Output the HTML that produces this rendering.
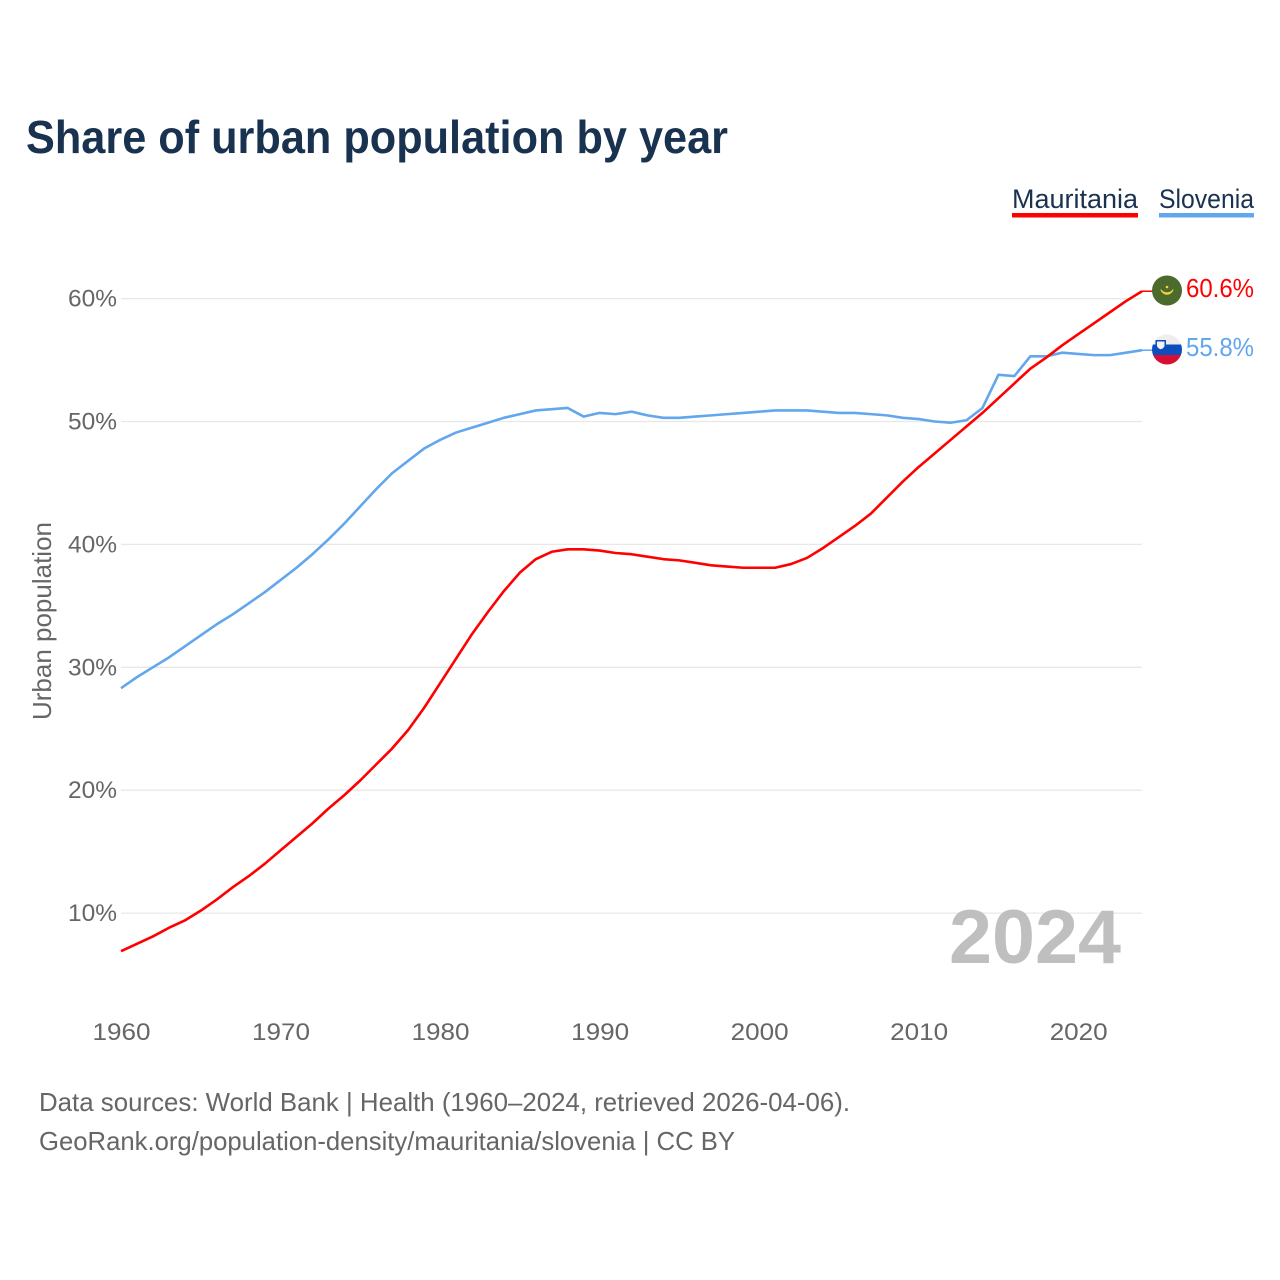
<!DOCTYPE html>
<html lang="en">
<head>
<meta charset="utf-8">
<title>Share of urban population by year</title>
<style>
html,body{margin:0;padding:0;background:#fff;}
svg{display:block;}
text{font-family:"Liberation Sans",sans-serif;}
</style>
</head>
<body>
<svg id="chart" xmlns="http://www.w3.org/2000/svg" width="1280" height="1280" viewBox="0 0 1280 1280">
  <rect width="1280" height="1280" fill="#ffffff"/>
  <text x="26" y="153" font-size="46" font-weight="700" fill="#19324f" textLength="702" lengthAdjust="spacingAndGlyphs">Share of urban population by year</text>

  <g>
    <text x="1012" y="208" font-size="27" fill="#19324f" textLength="126" lengthAdjust="spacingAndGlyphs">Mauritania</text>
    <rect x="1012" y="213" width="126" height="4.5" fill="#ff0000"/>
  </g>
  <g>
    <text x="1159" y="208" font-size="27" fill="#19324f" textLength="95" lengthAdjust="spacingAndGlyphs">Slovenia</text>
    <rect x="1159" y="213" width="95" height="4.5" fill="#62a7ee"/>
  </g>

  <g id="grid"></g>
  <g id="yticks"></g>
  <g id="xticks"></g>
  <text transform="translate(51,621) rotate(-90)" text-anchor="middle" font-size="26" fill="#666666" textLength="198" lengthAdjust="spacingAndGlyphs">Urban population</text>

  <text x="949" y="963" font-size="76" font-weight="700" fill="#bfbfbf" textLength="172" lengthAdjust="spacingAndGlyphs">2024</text>

  <path id="line-slovenia" fill="none" stroke="#62a7ee" stroke-width="2.6" stroke-linejoin="round"/>
  <path id="line-mauritania" fill="none" stroke="#ff0000" stroke-width="2.6" stroke-linejoin="round"/>
  <path id="leader-slovenia" fill="none" stroke="#62a7ee" stroke-width="1.5"/>
  <path id="leader-mauritania" fill="none" stroke="#ff0000" stroke-width="1.5"/>

  <defs>
    <clipPath id="flag-clip-si"><circle cx="1167" cy="349.5" r="15"/></clipPath>
  </defs>
  <g id="flag-mauritania">
    <circle cx="1167" cy="290.5" r="15" fill="#4c6a2c"/>
    <path d="M1160.800 289.500 A6.400 6.400 0 0 0 1173.200 289.500 A7.500 7.500 0 0 1 1160.800 289.500 Z" fill="#f2d544" stroke="#f2d544" stroke-width="0.8"/>
    <circle cx="1167" cy="287" r="1.300" fill="#f2d544"/>
  </g>
  <g id="flag-slovenia" clip-path="url(#flag-clip-si)">
    <rect x="1152" y="334.5" width="30" height="10" fill="#eeeeee"/>
    <rect x="1152" y="344.5" width="30" height="10.500" fill="#0b4ebd"/>
    <rect x="1152" y="355" width="30" height="10" fill="#d80f35"/>
    <path d="M1155.500 340 H1166 V346 Q1166 349.500 1160.700 351 Q1155.500 349.500 1155.500 346 Z" fill="#0b4ebd"/>
    <path d="M1157 341.500 H1164.500 V345.500 Q1164.500 348 1160.700 349.300 Q1157 348 1157 345.500 Z" fill="#f4f4f4"/>
  </g>
  <text id="value-mauritania" x="1186" y="297" font-size="26" fill="#ff0000" textLength="68" lengthAdjust="spacingAndGlyphs"></text>
  <text id="value-slovenia" x="1186" y="356" font-size="26" fill="#62a7ee" textLength="68" lengthAdjust="spacingAndGlyphs"></text>

  <text x="39" y="1111" font-size="26" fill="#666666" textLength="811" lengthAdjust="spacingAndGlyphs">Data sources: World Bank | Health (1960–2024, retrieved 2026-04-06).</text>
  <text x="39" y="1150" font-size="26" fill="#666666" textLength="696" lengthAdjust="spacingAndGlyphs">GeoRank.org/population-density/mauritania/slovenia | CC BY</text>
</svg>
<script>
const firstYear = 1960;
const yTickValues = [10, 20, 30, 40, 50, 60];
const yTickLabels = ["10%", "20%", "30%", "40%", "50%", "60%"];
const xTickValues = [1960, 1970, 1980, 1990, 2000, 2010, 2020];
const xTickLabels = ["1960", "1970", "1980", "1990", "2000", "2010", "2020"];
const mauritania = [
  6.9, 7.5, 8.1, 8.8, 9.4, 10.2, 11.1, 12.1, 13.0, 14.0,
  15.1, 16.2, 17.3, 18.5, 19.6, 20.8, 22.1, 23.4, 24.9, 26.7,
  28.7, 30.7, 32.7, 34.5, 36.2, 37.7, 38.8, 39.4, 39.6, 39.6,
  39.5, 39.3, 39.2, 39.0, 38.8, 38.7, 38.5, 38.3, 38.2, 38.1,
  38.1, 38.1, 38.4, 38.9, 39.7, 40.6, 41.5, 42.5, 43.8, 45.1,
  46.3, 47.4, 48.5, 49.6, 50.7, 51.9, 53.1, 54.3, 55.2, 56.2,
  57.1, 58.0, 58.9, 59.8, 60.6
];
const slovenia = [
  28.3, 29.2, 30.0, 30.8, 31.7, 32.6, 33.5, 34.3, 35.2, 36.1,
  37.1, 38.1, 39.2, 40.4, 41.7, 43.1, 44.5, 45.8, 46.8, 47.8,
  48.5, 49.1, 49.5, 49.9, 50.3, 50.6, 50.9, 51.0, 51.1, 50.4,
  50.7, 50.6, 50.8, 50.5, 50.3, 50.3, 50.4, 50.5, 50.6, 50.7,
  50.8, 50.9, 50.9, 50.9, 50.8, 50.7, 50.7, 50.6, 50.5, 50.3,
  50.2, 50.0, 49.9, 50.1, 51.1, 53.8, 53.7, 55.3, 55.3, 55.6,
  55.5, 55.4, 55.4, 55.6, 55.8
];
const valueLabels = { mauritania: "60.6%", slovenia: "55.8%" };

const NS = "http://www.w3.org/2000/svg";
function xScale(year) { return 121 + (year - 1960) * (1142 - 121) / 64; }
function yScale(v) { return 1036 - v * 12.29; }
function linePath(values) {
  return values.map(function (v, i) {
    return (i ? "L" : "M") + xScale(firstYear + i).toFixed(2) + " " + yScale(v).toFixed(2);
  }).join(" ");
}
const gridGroup = document.getElementById("grid");
const yGroup = document.getElementById("yticks");
const xGroup = document.getElementById("xticks");
yTickValues.forEach(function (v, i) {
  const g = document.createElementNS(NS, "line");
  g.setAttribute("x1", xScale(1960));
  g.setAttribute("x2", xScale(2024));
  g.setAttribute("y1", yScale(v));
  g.setAttribute("y2", yScale(v));
  g.setAttribute("stroke", "#e8e8e8");
  g.setAttribute("stroke-width", "1.3");
  
  
  gridGroup.appendChild(g);
  const t = document.createElementNS(NS, "text");
  t.setAttribute("x", 117);
  t.setAttribute("y", yScale(v) + 8);
  t.setAttribute("text-anchor", "end");
  t.setAttribute("font-size", "24.500");
  t.setAttribute("fill", "#666666");
  t.setAttribute("textLength", "49");
  t.setAttribute("lengthAdjust", "spacingAndGlyphs");
  
  
  t.textContent = yTickLabels[i];
  yGroup.appendChild(t);
});
xTickValues.forEach(function (year, i) {
  const t = document.createElementNS(NS, "text");
  t.setAttribute("x", xScale(year) + 0.5);
  t.setAttribute("y", 1040);
  t.setAttribute("text-anchor", "middle");
  t.setAttribute("font-size", "24.500");
  t.setAttribute("fill", "#666666");
  t.setAttribute("textLength", "58");
  t.setAttribute("lengthAdjust", "spacingAndGlyphs");
  
  
  t.textContent = xTickLabels[i];
  xGroup.appendChild(t);
});
document.getElementById("line-mauritania").setAttribute("d", linePath(mauritania));
document.getElementById("line-slovenia").setAttribute("d", linePath(slovenia));
const lastM = mauritania[mauritania.length - 1];
const lastS = slovenia[slovenia.length - 1];
document.getElementById("leader-mauritania").setAttribute("d", "M" + xScale(2024) + " " + yScale(lastM) + " H1153");
document.getElementById("leader-slovenia").setAttribute("d", "M" + xScale(2024) + " " + yScale(lastS) + " H1153");
document.getElementById("value-mauritania").textContent = valueLabels.mauritania;
document.getElementById("value-slovenia").textContent = valueLabels.slovenia;
</script>
</body>
</html>
